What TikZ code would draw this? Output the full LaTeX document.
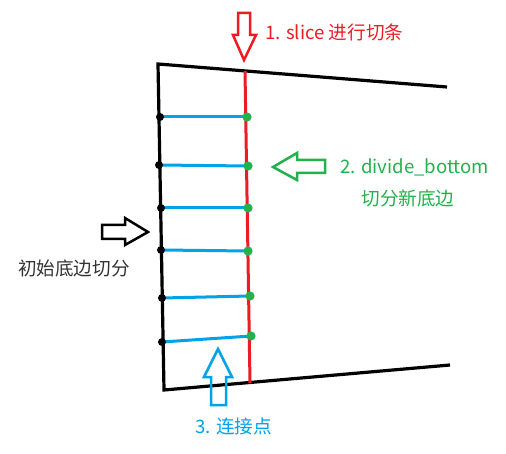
\documentclass[tikz,border=0pt]{standalone}
\usepackage{fontspec}
\setmainfont{Noto Sans CJK SC}
\definecolor{paintred}{HTML}{ED1C24}
\definecolor{paintgreen}{HTML}{22B14C}
\definecolor{paintblue}{HTML}{00A2E8}
\begin{document}
\begin{tikzpicture}[x=1pt,y=-1pt,
    label/.style={inner sep=0pt,font=\fontsize{18.6}{22}\selectfont},
    blockarrow/.style={line width=2.5pt,line join=miter}]
            \useasboundingbox (0,0) rectangle (506,454);
            % corners of the strip
            \coordinate (tl) at (158,64);
            \coordinate (tr) at (447,87);
            \coordinate (bl) at (164,390);
            \coordinate (br) at (450,365);
            \coordinate (cuttop) at (245,71);
            \coordinate (cutbot) at (250,383);
            \draw[line width=3.2pt,line join=miter] (tr) -- (tl) -- (bl) -- (br);
            \draw[paintred,line width=3pt] (cuttop) -- (cutbot); % the slice
            % old bottom points and new points on the slice
            \foreach \i/\lx/\ly/\rx/\ry in {1/160/117/247/117,2/159/165/248/166,3/161/208/248/208,
                                            4/161/250/248/251,5/162/298/250/296,6/162/342/251/336}
            {
            \coordinate (l\i) at (\lx,\ly);
            \coordinate (r\i) at (\rx,\ry);
            \draw[paintblue,line width=3pt] (l\i) -- (r\i);
            \fill (l\i) circle (4pt);
            \fill[paintgreen] (r\i) circle (4.6pt);
            }
            % arrows
            \draw[blockarrow,paintred] (238,13) -- (250,13) -- (250,35) -- (256,35) -- (244,60)
                -- (233,35) -- (238,35) -- cycle;
            \draw[blockarrow,paintgreen] (273,167) -- (297,153) -- (297,160) -- (325,160)
                -- (325,173) -- (297,173) -- (297,180) -- cycle;
            \draw[blockarrow,black] (102,225) -- (125,225) -- (125,218) -- (148,232)
                -- (125,245) -- (125,239) -- (102,239) -- cycle;
            \draw[blockarrow,paintblue] (218,349) -- (232,377) -- (226,377) -- (226,405)
                -- (211,405) -- (211,377) -- (204,377) -- cycle;
            % texts
            \node[label,paintred,anchor=west] (slice) at (265,32) {1. slice 进行切条};
            \node[label,paintgreen,anchor=west] (divide) at (340,167) {2. divide\_bottom};
            \node[label,paintgreen] (newbottom) at (408,198) {切分新底边};
            \node[label,black!80,anchor=west] (initial) at (18,268) {初始底边切分};
            \node[label,paintblue,anchor=west] (joint) at (195,426) {3. 连接点};
\end{tikzpicture}
\end{document}
